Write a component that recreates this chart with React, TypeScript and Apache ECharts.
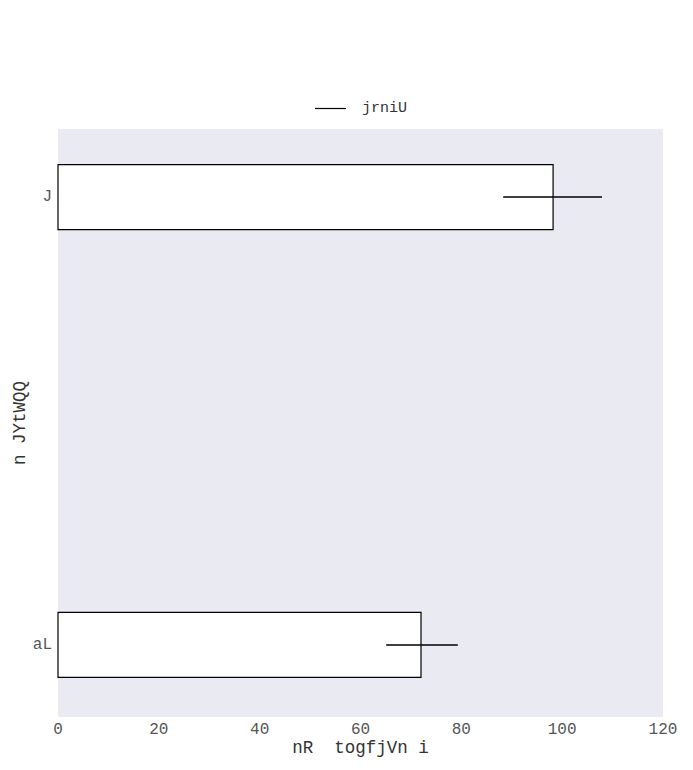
import React, { useEffect, useRef } from "react";
import * as echarts from "echarts";

const categories = ["J", "aL"];
const values = [98.2, 72.0];
const errLow = [88.3, 65.1];
const errHigh = [107.9, 79.3];
const xTicks = [0, 20, 40, 60, 80, 100, 120];
const legendName = "jrniU";
const xTitle = "nR  togfjVn i";
const yTitle = "n JYtWQQ";

const FONT = "'Liberation Mono', 'Courier New', monospace";

export default function App() {
  const ref = useRef<HTMLDivElement>(null);
  useEffect(() => {
    if (!ref.current) return;
    const chart = echarts.init(ref.current, undefined, { renderer: "svg" });
    const barData = values.map((v, i) => [v, i]);
    const errData = errLow.map((lo, i) => [lo, errHigh[i], i]);
    chart.setOption({
      animation: false,
      textStyle: { fontFamily: FONT },
      legend: {
        show: true,
        left: 310,
        top: 96,
        itemWidth: 31,
        itemHeight: 10,
        icon: "path://M0,4.4 H31 V5.6 H0 Z",
        data: [{ name: legendName, itemStyle: { color: "#000" } }],
        textStyle: { fontFamily: FONT, fontSize: 15, color: "#333", padding: [0, 0, 0, 11] },
      },
      grid: {
        left: 58,
        right: 30,
        top: 129,
        bottom: 53,
        show: true,
        backgroundColor: "#eaeaf2",
        borderWidth: 0,
        containLabel: false,
        outerBoundsMode: "none",
      },
      xAxis: {
        type: "value",
        min: 0,
        max: 120,
        interval: 20,
        axisLine: { show: false },
        axisTick: { show: false },
        splitLine: { show: false },
        axisLabel: { color: "#555", fontSize: 16, fontFamily: FONT, margin: 5, customValues: xTicks },
        name: xTitle,
        nameLocation: "middle",
        nameGap: 22,
        nameMoveOverlap: false,
        nameTextStyle: { color: "#333", fontSize: 17.5, fontFamily: FONT },
      },
      yAxis: {
        type: "value",
        inverse: true,
        min: -0.152,
        max: 1.161,
        axisLine: { show: false },
        axisTick: { show: false },
        splitLine: { show: false },
        axisLabel: {
          color: "#555",
          fontSize: 16,
          fontFamily: FONT,
          margin: 6,
          customValues: categories.map((_, i) => i),
          formatter: (v: number) => categories[Math.round(v)] ?? "",
        },
        name: yTitle,
        nameLocation: "middle",
        nameGap: 29,
        nameMoveOverlap: false,
        nameRotate: 90,
        nameTextStyle: { color: "#333", fontSize: 17.5, fontFamily: FONT },
      },
      series: [
        {
          type: "custom",
          name: "bars",
          data: barData,
          encode: { x: 0, y: 1 },
          renderItem: (params: any, api: any) => {
            const v = api.value(0);
            const idx = api.value(1);
            const p0 = api.coord([0, idx]);
            const p1 = api.coord([v, idx]);
            const h = Math.abs(api.size([0, 0.145])[1]);
            return {
              type: "rect",
              shape: { x: p0[0], y: p0[1] - h / 2, width: p1[0] - p0[0], height: h },
              style: { fill: "#ffffff", stroke: "#000", lineWidth: 1.2 },
            };
          },
        },
        {
          type: "custom",
          name: legendName,
          data: errData,
          encode: { x: [0, 1], y: 2 },
          z: 3,
          renderItem: (params: any, api: any) => {
            const idx = api.value(2);
            const a = api.coord([api.value(0), idx]);
            const b = api.coord([api.value(1), idx]);
            return {
              type: "line",
              shape: { x1: a[0], y1: a[1], x2: b[0], y2: b[1] },
              style: { stroke: "#000", lineWidth: 1.5 },
            };
          },
        },
      ],
    });
    return () => chart.dispose();
  }, []);
  return (
    <div
      ref={ref}
      style={{ position: "fixed", left: 0, top: 0, width: 693, height: 770, background: "#fff" }}
    />
  );
}
